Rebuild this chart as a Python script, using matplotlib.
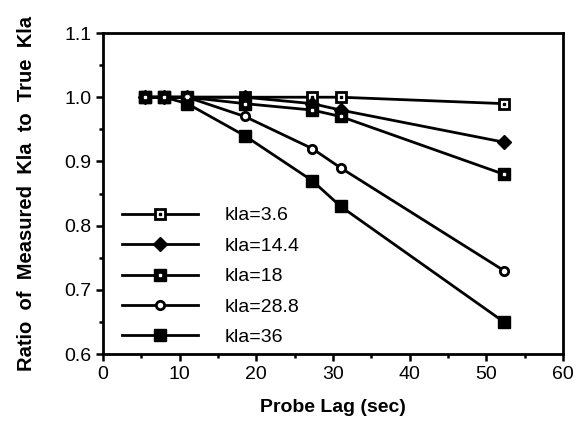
import numpy as np
import matplotlib.pyplot as plt
from matplotlib.ticker import MultipleLocator

plt.rcParams['font.family'] = ['Liberation Sans', 'DejaVu Sans']

# probe lag (sec)
lag = [5.5, 8, 11, 18.5, 27.3, 31, 52.3]

# ratio of measured to true kla
kla_3_6 = [1.0, 1.0, 1.0, 1.0, 1.0, 1.0, 0.99]
kla_14_4 = [1.0, 1.0, 1.0, 1.0, 0.99, 0.98, 0.93]
kla_18 = [1.0, 1.0, 1.0, 0.99, 0.98, 0.97, 0.88]
kla_28_8 = [1.0, 1.0, 1.0, 0.97, 0.92, 0.89, 0.73]
kla_36 = [1.0, 1.0, 0.99, 0.94, 0.87, 0.83, 0.65]

labels = ['kla=3.6', 'kla=14.4', 'kla=18', 'kla=28.8', 'kla=36']

fig = plt.figure(figsize=(5.77, 4.26), dpi=100)
ax = fig.add_axes([0.1785, 0.169, 0.797, 0.7535])

lw = 2.0
handles = []

#kla=3.6 open square with a dot
l1, = ax.plot(lag, kla_3_6, '-s', color='black', lw=lw, ms=7, mfc='white', mew=2, zorder=3)
d1, = ax.plot(lag, kla_3_6, 's', color='black', ms=2, lw=0, zorder=4)
handles.append((l1, d1))

#kla=14.4 filled diamond
l2, = ax.plot(lag, kla_14_4, '-D', color='black', lw=lw, ms=7, zorder=3)
handles.append(l2)

#kla=18 filled square with white centre
l3, = ax.plot(lag, kla_18, '-s', color='black', lw=lw, ms=8.5, zorder=3)
d3, = ax.plot(lag, kla_18, 's', color='white', ms=2, lw=0, zorder=4)
handles.append((l3, d3))

#kla=28.8 small open circle
l4, = ax.plot(lag, kla_28_8, '-o', color='black', lw=lw, ms=6, mfc='white', mew=2, zorder=3)
handles.append(l4)

#kla=36 filled square
l5, = ax.plot(lag, kla_36, '-s', color='black', lw=lw, ms=9, zorder=3)
handles.append(l5)

ax.set_xlim(0, 60)
ax.set_ylim(0.6, 1.1)
ax.xaxis.set_major_locator(MultipleLocator(10))
ax.xaxis.set_minor_locator(MultipleLocator(5))
ax.yaxis.set_major_locator(MultipleLocator(0.1))
ax.yaxis.set_minor_locator(MultipleLocator(0.05))
ax.yaxis.set_major_formatter(plt.FormatStrFormatter('%.1f'))
ax.tick_params(which='major', direction='out', length=5, width=1.8, labelsize=14, top=False, right=False)
ax.tick_params(which='minor', direction='out', length=3, width=1.8, top=False, right=False)
for s in ax.spines.values():
    s.set_linewidth(2)

ax.set_xlabel('Probe Lag (sec)', fontsize=14, fontweight='bold', labelpad=12)
ax.set_ylabel('Ratio  of  Measured  Kla  to  True  Kla', fontsize=14.5, fontweight='bold', labelpad=20)

ax.legend(handles, labels, loc='lower left', bbox_to_anchor=(0.024, 0.0), borderaxespad=0,
          frameon=False, fontsize=14, handlelength=3.9, handletextpad=1.4, labelspacing=0.66)

plt.savefig('out.png', dpi=100)
